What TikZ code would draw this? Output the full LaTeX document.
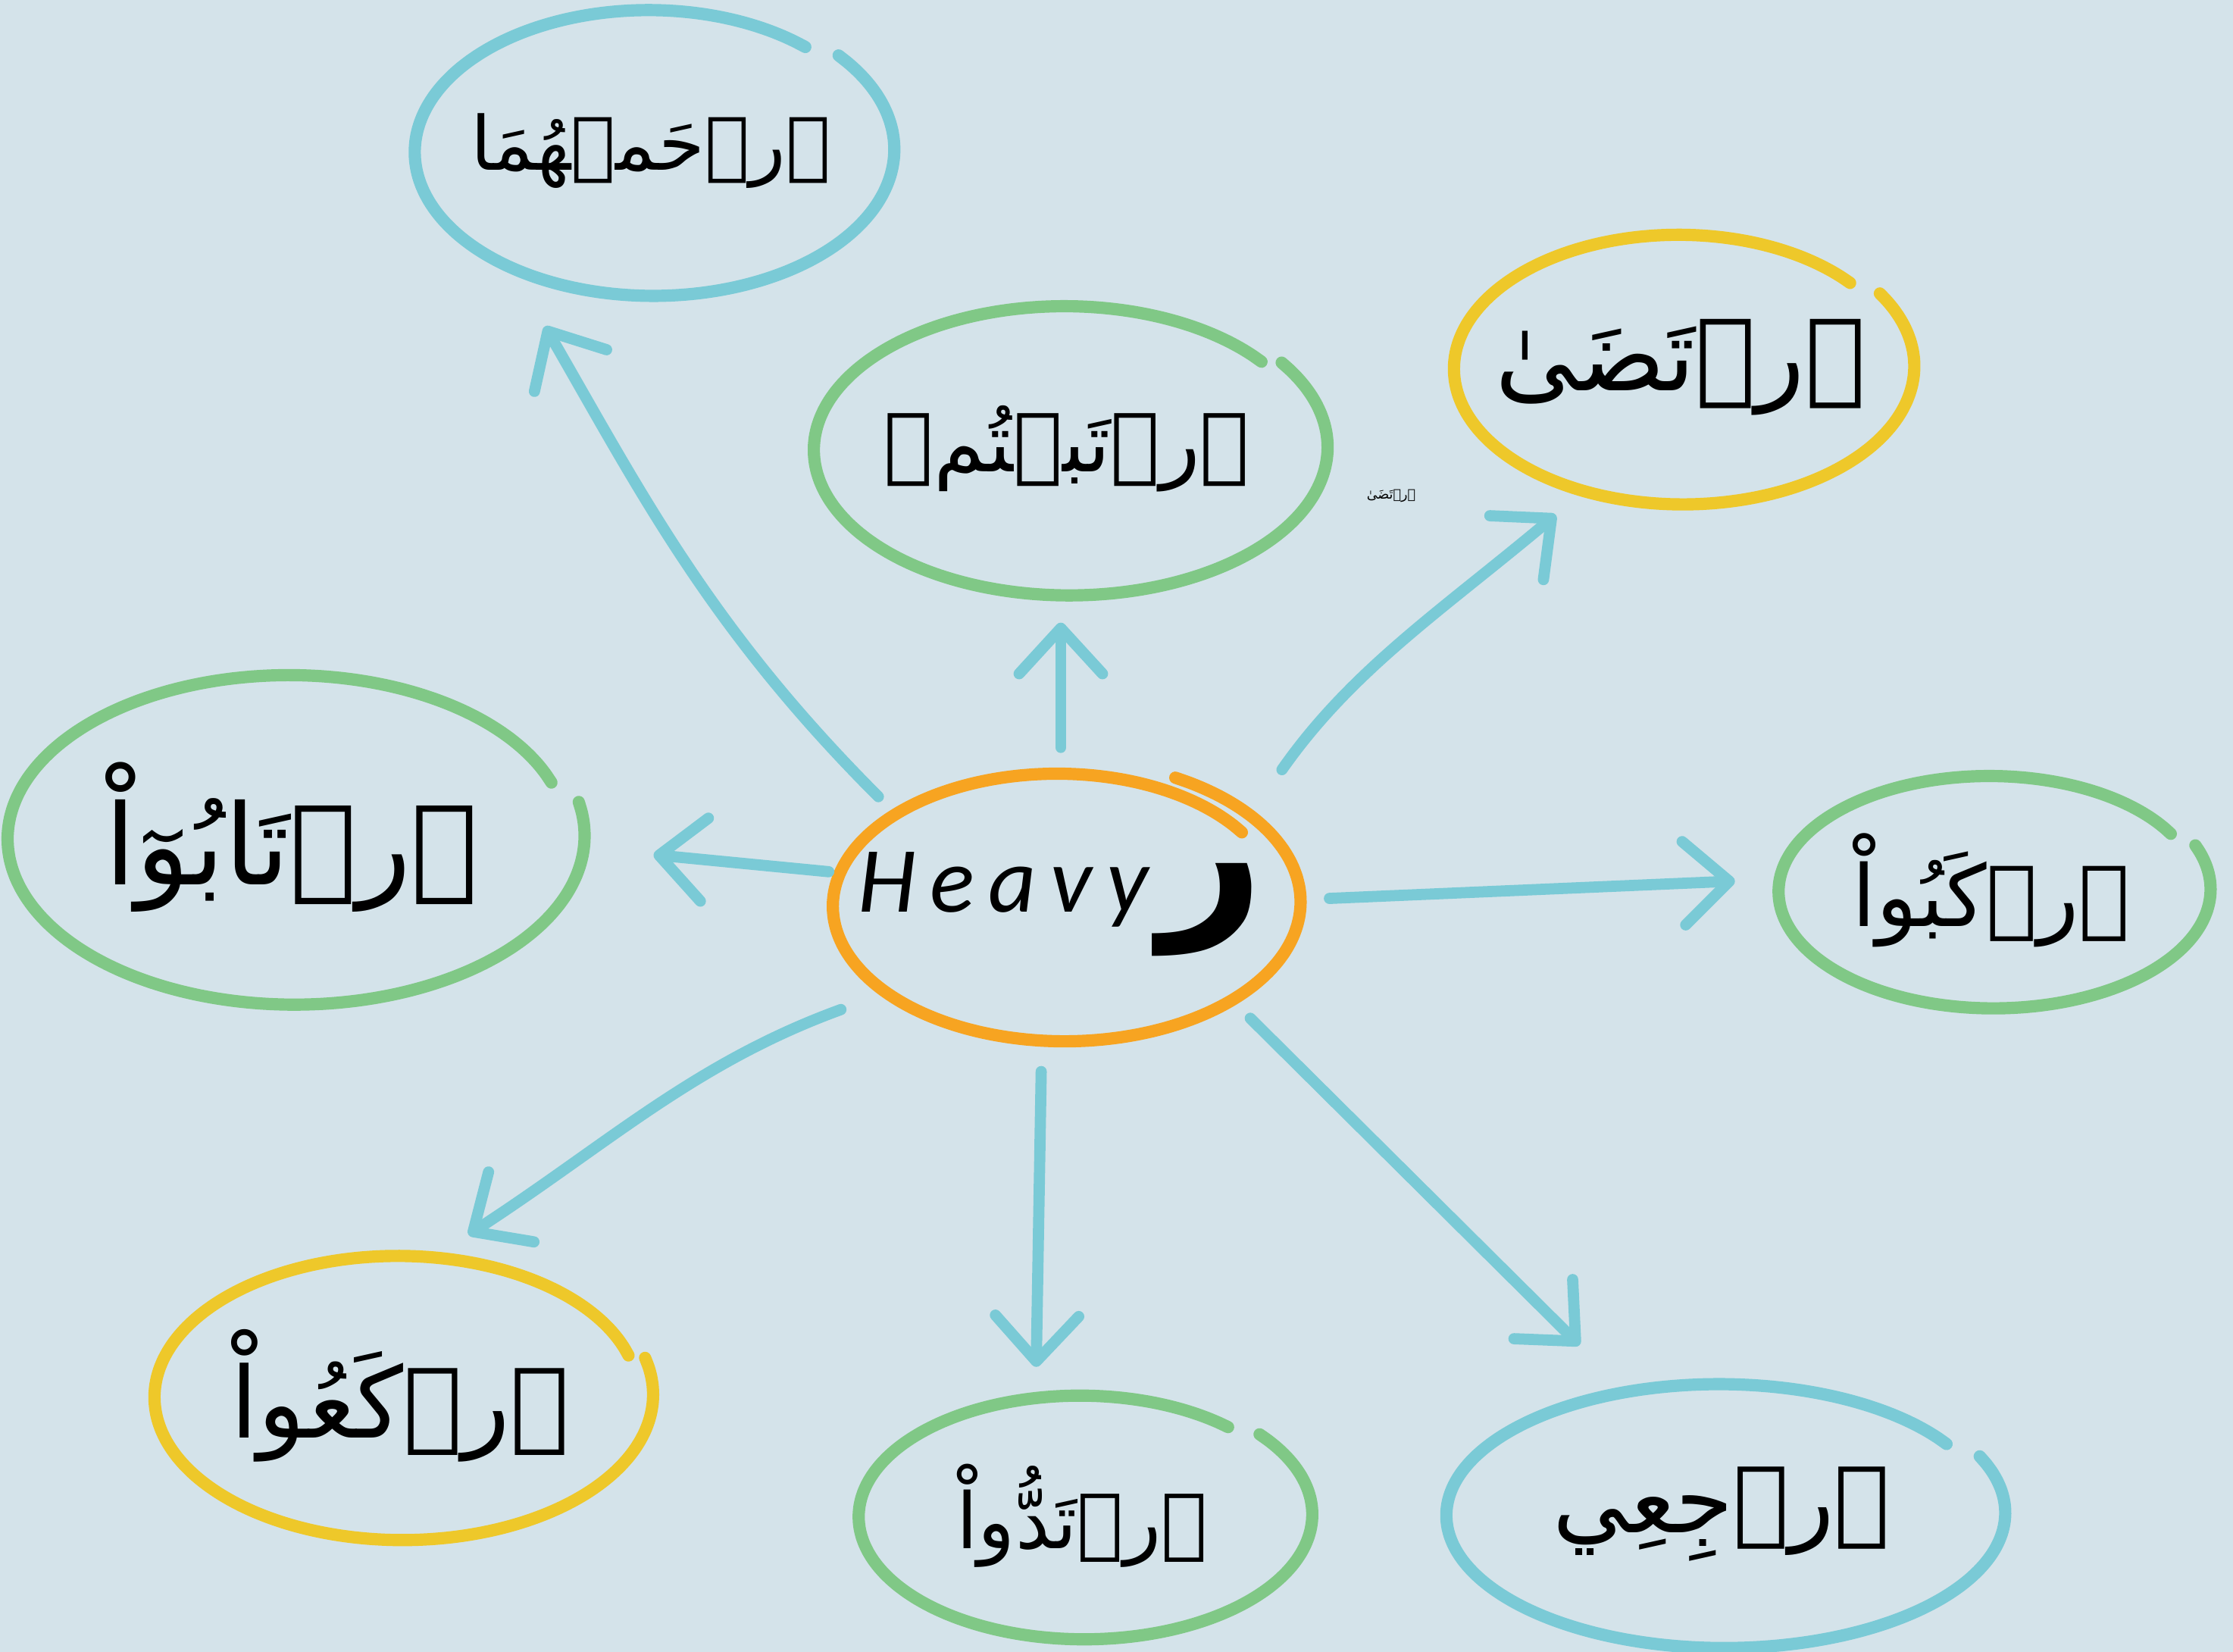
\documentclass[tikz,border=0pt]{standalone}
\usepackage{fontspec}
\usetikzlibrary{arrows.meta,shapes.geometric}
\TeXXeTstate=1
\setmainfont{DejaVu Sans}
\newfontfamily\arabicfont[Script=Arabic]{DejaVu Sans}
\newfontfamily\latinfont[LetterSpace=15]{Carlito}
\definecolor{bg}{RGB}{212,227,234}
\definecolor{cBlue}{RGB}{122,202,214}
\definecolor{cGreen}{RGB}{128,200,134}
\definecolor{cYellow}{RGB}{238,200,42}
\definecolor{cOrange}{RGB}{247,164,33}
\tikzset{
  word/.style={shape=ellipse,inner sep=-6mm,align=center},
  ring/.style={line width=4.6pt,line cap=round,line join=round},
  arr/.style={draw=cBlue,line width=4.2pt,line cap=round,
    -{Straight Barb[length=6mm,width=11mm,round]}},
}
\newcommand{\aw}[2]{{\arabicfont\fontsize{#1}{#1}\selectfont\beginR #2\endR}}
% hand-drawn ring: node, colour, x radius, y radius, start angle, sweep, spread
\newcommand{\ring}[7]{%
  \draw[ring,#2,shift={(#1.center)}] plot[domain=0:#6,samples=100,smooth]
    ({#3*(1+#7-2*#7*\x/#6)*cos(#5-\x)},{#4*(1+#7-2*#7*\x/#6)*sin(#5-\x)});}

\begin{document}
\begin{tikzpicture}
  \fill[bg] (0,0) rectangle (29.47,21.80);
  \useasboundingbox (0,0) rectangle (29.47,21.80);
  % centre
  \node[word,minimum width=6.10cm,minimum height=3.58cm] (heavy) at (14.00,9.87)
    {{\latinfont\itshape\fontsize{35}{35}\selectfont Heavy}\hspace{0.15cm}{\arabicfont\bfseries\fontsize{68}{68}\selectfont ر}};
  % words round it
  \node[word,minimum width=6.28cm,minimum height=3.80cm] (rhm)   at (8.59,19.81)  {\aw{28}{ٱرۡحَمۡهُمَا}};
  \node[word,minimum width=6.72cm,minimum height=3.84cm] (rtbtm) at (14.08,15.88) {\aw{31}{ٱرۡتَبۡتُمۡ}};
  \node[word,minimum width=6.02cm,minimum height=3.58cm] (rtda)  at (22.18,16.95) {\aw{38}{ٱرۡتَضَىٰ}};
  \node[word,minimum width=7.52cm,minimum height=4.36cm] (rtabu) at (3.85,10.75)  {\aw{42}{ٱرۡتَابُوٓاْ}};
  \node[word,minimum width=5.64cm,minimum height=3.08cm] (rkbu)  at (26.28,10.05) {\aw{32}{ٱرۡكَبُواْ}};
  \node[word,minimum width=6.50cm,minimum height=3.76cm] (rkau)  at (5.28,3.38)   {\aw{37}{ٱرۡكَعُواْ}};
  \node[word,minimum width=5.94cm,minimum height=3.24cm] (rtdu)  at (14.28,1.80)  {\aw{29}{ٱرۡتَدُّواْ}};
  \node[word,minimum width=7.30cm,minimum height=3.50cm] (rjai)  at (22.72,1.82)  {\aw{35}{ٱرۡجِعِي}};
  \node[font=\arabicfont\fontsize{5}{5}\selectfont] (note) at (18.36,15.26) {\beginR ٱرۡتَضَىٰ\endR};
  % rings
  \ring{heavy}{cOrange}{3.05}{1.79}{62}{388}{0.055}
  \ring{rhm}{cBlue}{3.14}{1.90}{40}{352}{0.03}
  \ring{rtbtm}{cGreen}{3.36}{1.92}{35}{357}{0.03}
  \ring{rtda}{cYellow}{3.01}{1.79}{32}{352}{0.03}
  \ring{rtabu}{cGreen}{3.76}{2.18}{12}{352}{0.03}
  \ring{rkbu}{cGreen}{2.82}{1.54}{22}{352}{0.03}
  \ring{rkau}{cYellow}{3.25}{1.88}{15}{358}{0.03}
  \ring{rtdu}{cGreen}{2.97}{1.62}{40}{352}{0.03}
  \ring{rjai}{cBlue}{3.65}{1.75}{25}{352}{0.03}
  % arrows
  \draw[arr,shorten <=0.26cm,shorten >=0.89cm] (heavy.151) to[out=135,in=-60] (rhm.220);
  \draw[arr,shorten <=0.27cm,shorten >=0.37cm] (heavy.north) -- (heavy.north |- rtbtm.south);
  \draw[arr,shorten <=0.84cm,shorten >=0.49cm] (heavy.24) to[out=55,in=-140] (rtda.232);
  \draw[arr,shorten <=0.09cm,shorten >=1.02cm] (heavy.172) -- (rtabu.358);
  \draw[arr,shorten <=0.49cm,shorten >=0.57cm] (heavy.1) -- (rkbu.177);
  \draw[arr,shorten <=0.63cm,shorten >=0.48cm] (heavy.207) to[out=200,in=33] (rkau.75);
  \draw[arr,shorten <=0.42cm,shorten >=0.37cm] (heavy.262) -- (rtdu.111);
  \draw[arr,shorten <=0.39cm,shorten >=0.83cm] (heavy.331) -- (rjai.128);
\end{tikzpicture}
\end{document}
